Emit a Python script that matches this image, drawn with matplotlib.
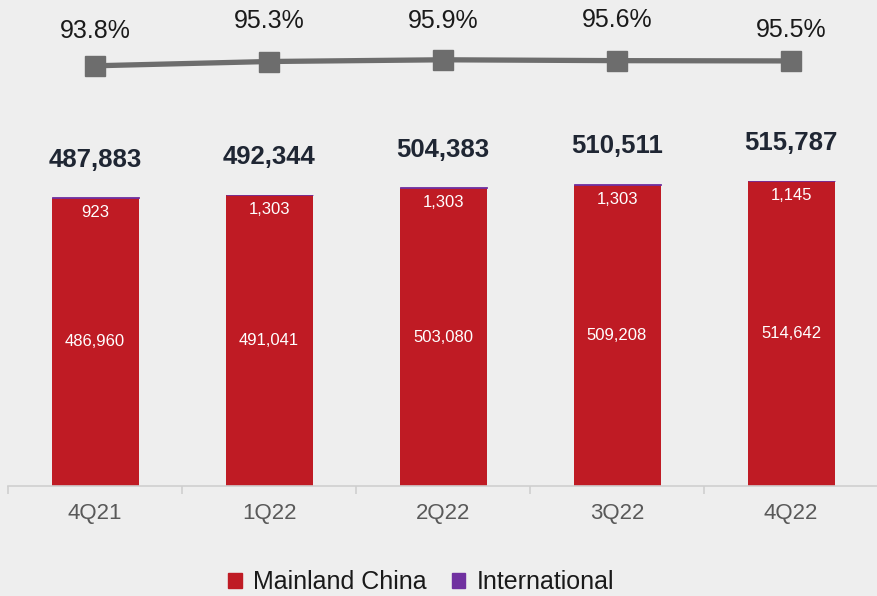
import numpy as np
import matplotlib.pyplot as plt
from matplotlib.patches import Patch

plt.rcParams['font.family'] = ['Liberation Sans', 'DejaVu Sans']

# Dados trimestrais
trimestres = ["4Q21", "1Q22", "2Q22", "3Q22", "4Q22"]
china = [486960, 491041, 503080, 509208, 514642]
internacional = [923, 1303, 1303, 1303, 1145]
totais = [487883, 492344, 504383, 510511, 515787]
percentual = [93.8, 95.3, 95.9, 95.6, 95.5]

# Deslocamento vertical (pt) dos rótulos de percentual
desloc_pct = [25, 29, 28, 29, 22]

fundo = "#eeeeee"
vermelho = "#bf1b24"
roxo = "#7030a0"
cinza = "#6d6d6d"

fig = plt.figure(figsize=(8.77, 5.96), dpi=100, facecolor=fundo)
ax = fig.add_axes([8 / 877, 110 / 596, 870 / 877, 486 / 596])
ax.set_facecolor(fundo)

x = np.arange(len(trimestres))
ax.bar(x, china, width=0.5, color=vermelho)
ax.bar(x, internacional, width=0.5, bottom=china, color=roxo,
       edgecolor=roxo, linewidth=0.6)

ax.set_xlim(-0.5, len(trimestres) - 0.5)
ax.set_ylim(0, 821000)

# Rótulos dos segmentos e totais
for i in range(len(x)):
    ax.text(x[i], china[i] / 2, f"{china[i]:,}", ha="center", va="center",
            color="white", fontsize=12)
    ax.annotate(f"{internacional[i]:,}", (x[i], totais[i]), xytext=(0, -11),
                textcoords="offset points", ha="center", va="center",
                color="white", fontsize=12)
    ax.annotate(f"{totais[i]:,}", (x[i], totais[i]), xytext=(0, 27),
                textcoords="offset points", ha="center", va="center",
                color="#1f2633", fontsize=18.5, fontweight="bold")

# Eixos
for lado in ["top", "right", "left"]:
    ax.spines[lado].set_visible(False)
ax.spines["bottom"].set_color("#cfcfcf")
ax.spines["bottom"].set_linewidth(1.2)
ax.set_yticks([])
ax.set_xticks(x)
ax.set_xticklabels(trimestres, fontsize=16, color="#595959")
ax.tick_params(axis="x", which="major", length=0, pad=12)
ax.set_xticks(np.arange(-0.5, len(trimestres)), minor=True)
ax.tick_params(axis="x", which="minor", length=6, color="#cfcfcf", width=1.2)

# Linha de percentual no eixo secundário
ax2 = ax.twinx()
ax2.set_ylim(-53.1, 116.8)
ax2.plot(x, percentual, color=cinza, linewidth=3.8, marker="s",
         markersize=14, markerfacecolor=cinza, markeredgecolor=cinza)
for i in range(len(x)):
    ax2.annotate(f"{percentual[i]}%", (x[i], percentual[i]),
                 xytext=(0, desloc_pct[i]), textcoords="offset points",
                 ha="center", va="center", fontsize=18, color="#1a1a1a")
ax2.axis("off")

# Legenda
itens = [Patch(color=vermelho, label="Mainland China"),
         Patch(color=roxo, label="International")]
fig.legend(handles=itens, loc="center", bbox_to_anchor=(0.480, 1 - 582 / 596),
           ncol=2, frameon=False, fontsize=18, handlelength=0.55,
           handleheight=0.55, handletextpad=0.45, columnspacing=1.0,
           labelcolor="#1a1a1a")

fig.savefig("out.png", dpi=100, facecolor=fundo)
